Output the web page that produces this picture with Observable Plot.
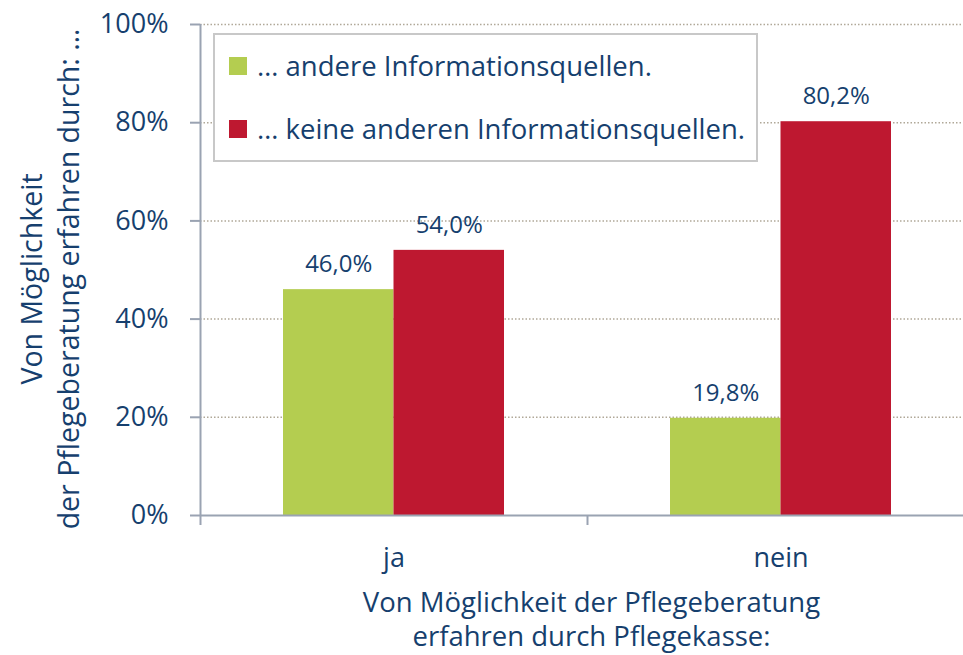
<!DOCTYPE html>
<html>
<head>
<meta charset="utf-8">
<script src="https://cdn.jsdelivr.net/npm/d3@7"></script>
<script src="https://cdn.jsdelivr.net/npm/@observablehq/plot@0.6"></script>
<style>
  html, body { margin: 0; padding: 0; background: #fff; overflow: hidden; }
  #wrap { position: relative; width: 963px; height: 655px; overflow: hidden; font-family: "Open Sans", sans-serif; }
  #chart svg { max-width: none !important; display: block; }
  #legend { position: absolute; left: 213px; top: 33px; width: 541px; height: 125px; border: 2px solid #c8c8c8; background: #fff; color: #163f6e; font-size: 27.5px; }
  .item { position: absolute; left: 14px; display: flex; align-items: center; white-space: nowrap; }
  .sw { width: 18px; height: 18px; margin-right: 10px; display: inline-block; }
</style>
</head>
<body>
<div id="wrap"><div id="chart"></div><div id="legend"></div></div>
<script>
const categories = ["ja", "nein"];
const seriesNames = ["… andere Informationsquellen.", "… keine anderen Informationsquellen."];
const andere = [46.0, 19.8];
const keine = [54.0, 80.2];
const yTicks = [0, 20, 40, 60, 80, 100];
const gridTicks = [20, 40, 60, 80, 100];
const colors = ["#b4cd50", "#be1830"];
const yLabel = "Von Möglichkeit\nder Pflegeberatung erfahren durch: …";
const xLabel = "Von Möglichkeit der Pflegeberatung\nerfahren durch Pflegekasse:";

const textColor = "#163f6e";
const axisColor = "#9aa3b2";
const gridColor = "#b0a898";

const dataA = categories.map((c, i) => ({cat: c, series: seriesNames[0], value: andere[i]}));
const dataK = categories.map((c, i) => ({cat: c, series: seriesNames[1], value: keine[i]}));
const fmt = v => v.toFixed(1).replace(".", ",") + "%";

const W = 974, ML = 200;
const bw = (W - ML) / categories.length; // band width
const barW = 110.5;
const outer = bw / 2 - barW;

const chart = Plot.plot({
  width: W,
  height: 655,
  marginLeft: ML,
  marginRight: 0,
  marginTop: 24,
  marginBottom: 140,
  style: {fontFamily: "'Open Sans', sans-serif", color: textColor, background: "transparent"},
  x: {type: "band", domain: categories, padding: 0, axis: null},
  y: {domain: [0, 100], axis: null},
  color: {domain: seriesNames, range: colors},
  marks: [
    Plot.ruleY(gridTicks, {stroke: gridColor, strokeWidth: 1.5, strokeDasharray: "1.5,2"}),
    Plot.barY(dataA, {x: "cat", y: "value", fill: "series", insetLeft: outer, insetRight: bw / 2}),
    Plot.barY(dataK, {x: "cat", y: "value", fill: "series", insetLeft: bw / 2, insetRight: outer}),
    Plot.text(dataA, {x: "cat", y: "value", text: d => fmt(d.value), dx: -barW / 2, dy: -25, fill: textColor, fontSize: 24}),
    Plot.text(dataK, {x: "cat", y: "value", text: d => fmt(d.value), dx: barW / 2, dy: -25, fill: textColor, fontSize: 24}),
    Plot.ruleY([0], {stroke: axisColor, strokeWidth: 2}),
    Plot.ruleX([categories[0]], {x: d => d, dx: -bw / 2, y1: 0, y2: 100, stroke: axisColor, strokeWidth: 2}),
    Plot.axisY({ticks: yTicks, label: null, tickSize: 10, tickPadding: 22, tickFormat: d => d + "%", stroke: axisColor, strokeWidth: 2, fill: textColor, fontSize: 27}),
    Plot.axisX({tickSize: 10, label: null, dx: -bw / 2, text: null, stroke: axisColor, strokeWidth: 2}),
    Plot.axisX({tickSize: 0, label: null, tickPadding: 32, fill: textColor, fontSize: 27}),
    Plot.text([xLabel], {frameAnchor: "bottom", dy: 103, dx: 4, fill: textColor, fontSize: 27.5, lineHeight: 1.22, lineAnchor: "middle"}),
    Plot.text([yLabel], {frameAnchor: "left", dx: -152, dy: 9, rotate: -90, textAnchor: "middle", lineAnchor: "middle", lineHeight: 1.3, fill: textColor, fontSize: 28.5})
  ]
});
document.getElementById("chart").appendChild(chart);

const legend = document.getElementById("legend");
seriesNames.forEach((s, i) => {
  const it = document.createElement("div");
  it.className = "item";
  it.style.top = (i === 0 ? 12 : 75) + "px";
  it.innerHTML = `<span class="sw" style="background:${colors[i]}"></span><span>${s}</span>`;
  legend.appendChild(it);
});
</script>
</body>
</html>
